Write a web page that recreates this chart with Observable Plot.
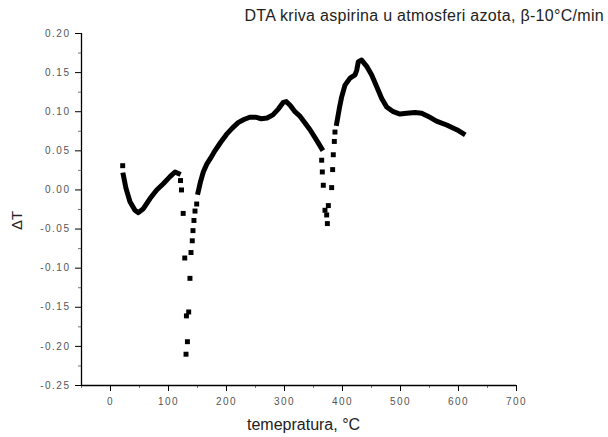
<!DOCTYPE html>
<html><head><meta charset="utf-8">
<script src="https://cdn.jsdelivr.net/npm/d3@7"></script>
<script src="https://cdn.jsdelivr.net/npm/@observablehq/plot@0.6"></script>
<style>
body{margin:0;background:#fff;font-family:"Liberation Sans",Arial,sans-serif}
#wrap{position:relative;width:608px;height:437px;overflow:hidden}
#title{position:absolute;top:7px;right:4px;font-size:16px;letter-spacing:0.3px;color:#222;white-space:nowrap}
#xlab{position:absolute;top:416px;left:247px;width:100px;text-align:center;font-size:16px;color:#222;white-space:nowrap}
#ylab{position:absolute;top:212px;left:7px;font-size:15px;color:#222;transform:rotate(-90deg);white-space:nowrap}
</style></head>
<body>
<div id="wrap">
<div id="chart"></div>
<div id="title">DTA kriva aspirina u atmosferi azota, β-10°C/min</div>
<div id="xlab">temepratura, °C</div>
<div id="ylab">ΔT</div>
</div>
<script>
// continuous (dense) parts of the curve
const segA_T = [22.1, 26.7, 33.6, 42.2, 48, 56.6, 68.1, 79.7, 91, 102.6, 111.2, 117];
const segA_V = [0.019, 0.002, -0.015, -0.026, -0.029, -0.024, -0.011, 0, 0.008, 0.017, 0.023, 0.021];
const segB_T = [151, 155, 160, 166, 172, 180, 190, 200, 210, 220, 230, 240, 250, 260, 270, 280, 290, 298, 303, 310, 318, 327, 344, 355, 364];
const segB_V = [-0.003, 0.01, 0.023, 0.033, 0.040, 0.05, 0.061, 0.071, 0.079, 0.086, 0.090, 0.093, 0.093, 0.091, 0.092, 0.096, 0.104, 0.112, 0.113, 0.108, 0.100, 0.094, 0.077, 0.064, 0.053];
const segC_T = [390, 394.5, 398.6, 404.3, 413, 421.6, 424.5, 427.3, 433, 441.7, 450.3, 459, 467.6, 476.2, 487.6, 499, 510.7, 525, 536.5, 548, 562, 579.6, 597, 608];
const segC_V = [0.085, 0.104, 0.119, 0.134, 0.143, 0.147, 0.153, 0.164, 0.166, 0.158, 0.147, 0.132, 0.117, 0.106, 0.100, 0.097, 0.098, 0.099, 0.098, 0.094, 0.088, 0.083, 0.077, 0.072];
// isolated square points (start and the two endothermic dips)
const dotT = [21, 120.7, 122.4, 125.3, 128, 130.9, 134.8, 132.6, 130.2, 137, 138.8, 141, 142.2, 143.9, 145.7, 148.6,
              364.1, 365.2, 366.9, 369.8, 372.7, 373.9, 375.6, 381.3, 383, 384.1, 385.9, 387];
const dotV = [0.031, 0.012, 0.0, -0.030, -0.087, -0.161, -0.156, -0.194, -0.210, -0.113, -0.080, -0.065, -0.052, -0.039, -0.027, -0.018,
              0.038, 0.023, 0.006, -0.026, -0.032, -0.043, -0.020, 0.003, 0.026, 0.045, 0.062, 0.074];
// ticks
const xMajor = [0, 100, 200, 300, 400, 500, 600, 700];
const xMinor = [-50, 50, 150, 250, 350, 450, 550, 650];
const yMajor = [-0.25, -0.20, -0.15, -0.10, -0.05, 0.00, 0.05, 0.10, 0.15, 0.20];
const yMinor = [-0.225, -0.175, -0.125, -0.075, -0.025, 0.025, 0.075, 0.125, 0.175];

const line = [];
[[segA_T, segA_V, "A"], [segB_T, segB_V, "B"], [segC_T, segC_V, "C"]].forEach(([ts, vs, s]) =>
  ts.forEach((t, i) => line.push({t, v: vs[i], s})));
const dots = dotT.map((t, i) => ({t, v: dotV[i]}));

const chart = Plot.plot({
  width: 608, height: 437,
  marginLeft: 81, marginRight: 92, marginTop: 33, marginBottom: 52,
  style: {fontFamily: "'Liberation Sans', Arial, sans-serif", fontSize: "10px", background: "#fff", letterSpacing: "1.5px"},
  x: {domain: [-50, 700]},
  y: {domain: [-0.25, 0.20]},
  marks: [
    Plot.axisX(xMajor, {tickSize: 6, tickPadding: 6, tickFormat: d => String(d), fill: "#555", stroke: "#000", label: null}),
    Plot.axisX(xMinor, {tickSize: 3, tickFormat: () => "", stroke: "#777", label: null}),
    Plot.axisY(yMajor, {tickSize: 6, tickPadding: 5, tickFormat: d => d.toFixed(2), fill: "#555", stroke: "#000", label: null}),
    Plot.axisY(yMinor, {tickSize: 3, tickFormat: () => "", stroke: "#777", label: null}),
    Plot.ruleX([-50], {stroke: "#000", strokeWidth: 1.3}),
    Plot.ruleY([-0.25], {stroke: "#000", strokeWidth: 1.3}),
    Plot.line(line, {x: "t", y: "v", z: "s", stroke: "#000", strokeWidth: 5, strokeLinejoin: "round", strokeLinecap: "square"}),
    Plot.dot(dots, {x: "t", y: "v", symbol: "square", r: 2.8, fill: "#000", stroke: null})
  ]
});
document.getElementById("chart").appendChild(chart);
</script>
</body></html>
